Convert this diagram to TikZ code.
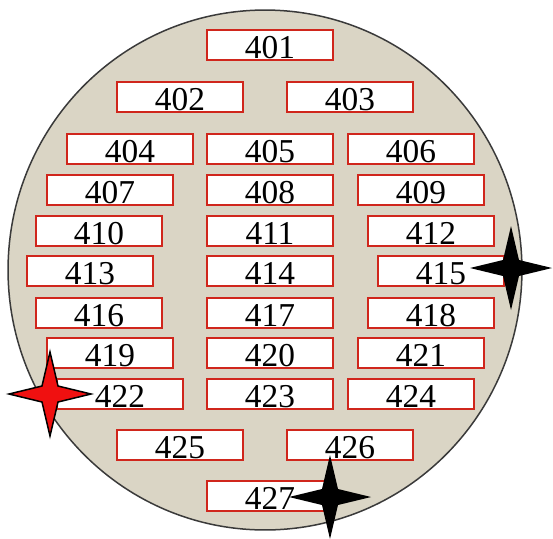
\documentclass[tikz,border=0pt]{standalone}
\usepackage{fontspec}
\setmainfont{Liberation Serif}
\usepackage{xcolor}
\definecolor{waferfill}{HTML}{DAD5C5}
\definecolor{waferline}{HTML}{3A3A3A}
\definecolor{dieline}{HTML}{D0261C}
\definecolor{markred}{HTML}{F01010}
\usepackage{tikz}

\begin{document}
\begin{tikzpicture}[x=0.02cm, y=-0.02cm,
  die/.style={rectangle, draw=dieline, fill=white, line width=0.04cm,
    minimum width=2.52cm, inner sep=0pt, text height=0.57cm, text depth=0.02cm,
    font=\fontsize{19}{19}\selectfont},
  fourstar/.pic={
    \path[pic actions] (41,0) -- (8,8) -- (0,42) -- (-8,8) -- (-41,0)
      -- (-8,-8) -- (0,-42) -- (8,-8) -- cycle;
  }
]
\useasboundingbox (0,0) rectangle (553,538);
% wafer
\fill[waferfill] (265,270) ellipse [x radius=5.14cm, y radius=5.2cm];
\draw[waferline, line width=0.03cm] (265,270) ellipse [x radius=5.14cm, y radius=5.2cm];
% dies
\node[die] (d401) at (270,45) {401};
\node[die] (d402) at (180,97) {402};
\node[die] (d403) at (350,97) {403};
\node[die] (d404) at (130,149) {404};
\node[die] (d405) at (270,149) {405};
\node[die] (d406) at (411,149) {406};
\node[die] (d407) at (110,190) {407};
\node[die] (d408) at (270,190) {408};
\node[die] (d409) at (421,190) {409};
\node[die] (d410) at (99,231) {410};
\node[die] (d411) at (270,231) {411};
\node[die] (d412) at (431,231) {412};
\node[die] (d413) at (90,271) {413};
\node[die] (d414) at (270,271) {414};
\node[die] (d415) at (441,271) {415};
\node[die] (d416) at (99,313) {416};
\node[die] (d417) at (270,313) {417};
\node[die] (d418) at (431,313) {418};
\node[die] (d419) at (110,353) {419};
\node[die] (d420) at (270,353) {420};
\node[die] (d421) at (421,353) {421};
\node[die] (d422) at (120,394) {422};
\node[die] (d423) at (270,394) {423};
\node[die] (d424) at (411,394) {424};
\node[die] (d425) at (180,445) {425};
\node[die] (d426) at (350,445) {426};
\node[die] (d427) at (270,496) {427};
% markers
\pic[fill=black] at (511,268) {fourstar};
\pic[fill=black] at (330,497) {fourstar};
\pic[fill=markred, draw=black, line width=0.03cm] at (50,394) {fourstar};
\end{tikzpicture}
\end{document}
